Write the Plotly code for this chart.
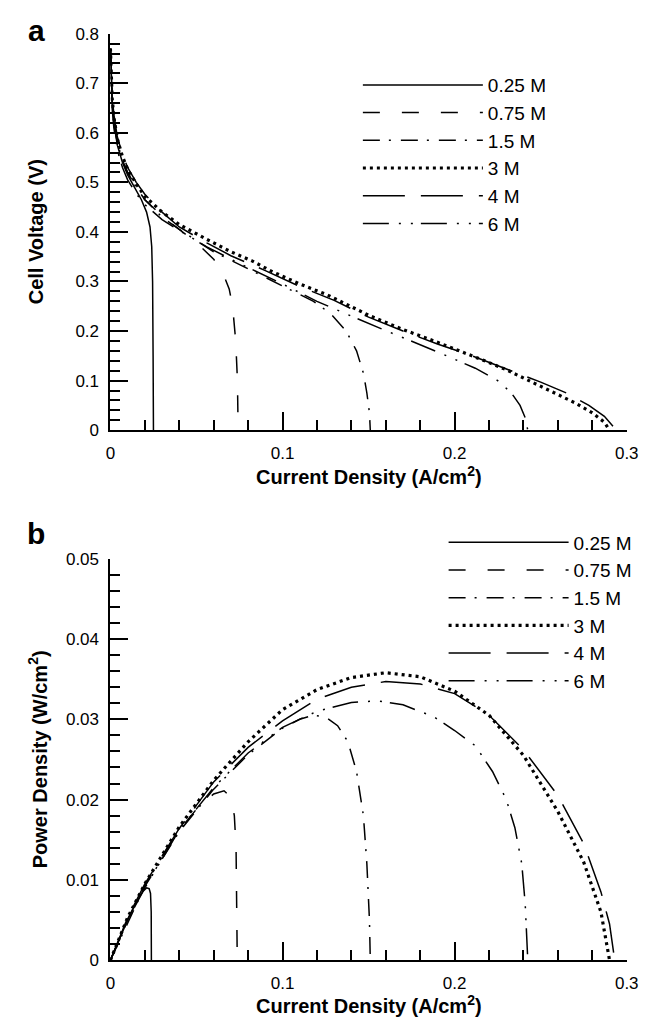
import plotly.graph_objects as go

# ---------------- data ----------------
labels = ["0.25 M", "0.75 M", "1.5 M", "3 M", "4 M", "6 M"]

# Panel a: cell voltage (V) vs current density (A/cm2)
a_i_025 = [0, 0.0005, 0.001, 0.002, 0.004, 0.007, 0.01, 0.014, 0.018, 0.021, 0.023, 0.024, 0.0245, 0.0248, 0.025]
a_v_025 = [0.77, 0.70, 0.66, 0.62, 0.575, 0.54, 0.515, 0.49, 0.465, 0.44, 0.41, 0.37, 0.30, 0.15, 0.0]

a_i_075 = [0, 0.0005, 0.001, 0.002, 0.004, 0.007, 0.01, 0.015, 0.02, 0.03, 0.04, 0.05, 0.06, 0.065, 0.069, 0.071, 0.0728, 0.0738, 0.0742]
a_v_075 = [0.77, 0.70, 0.665, 0.625, 0.58, 0.545, 0.52, 0.49, 0.465, 0.432, 0.405, 0.378, 0.345, 0.32, 0.285, 0.25, 0.18, 0.10, 0.0]

a_i_15 = [0, 0.0005, 0.001, 0.002, 0.004, 0.007, 0.01, 0.015, 0.02, 0.03, 0.04, 0.06, 0.08, 0.10, 0.118, 0.128, 0.137, 0.143, 0.147, 0.149, 0.1505, 0.151]
a_v_15 = [0.77, 0.70, 0.665, 0.625, 0.58, 0.545, 0.52, 0.49, 0.465, 0.43, 0.405, 0.36, 0.325, 0.29, 0.26, 0.235, 0.20, 0.16, 0.115, 0.075, 0.035, 0.0]

a_i_3 = [0, 0.0005, 0.001, 0.002, 0.004, 0.007, 0.01, 0.015, 0.02, 0.03, 0.04, 0.056, 0.07, 0.082, 0.094, 0.11, 0.126, 0.15, 0.17, 0.188, 0.203, 0.216, 0.23, 0.241, 0.255, 0.27, 0.28, 0.287, 0.29]
a_v_3 = [0.77, 0.705, 0.67, 0.632, 0.588, 0.552, 0.527, 0.497, 0.472, 0.44, 0.415, 0.385, 0.36, 0.342, 0.32, 0.295, 0.273, 0.232, 0.203, 0.18, 0.16, 0.142, 0.122, 0.104, 0.08, 0.055, 0.035, 0.016, 0.0]

a_i_4 = [0, 0.0005, 0.001, 0.002, 0.004, 0.007, 0.01, 0.015, 0.02, 0.03, 0.04, 0.056, 0.07, 0.09, 0.11, 0.13, 0.15, 0.17, 0.19, 0.21, 0.23, 0.25, 0.265, 0.278, 0.287, 0.292, 0.293]
a_v_4 = [0.77, 0.71, 0.675, 0.637, 0.592, 0.556, 0.53, 0.50, 0.476, 0.44, 0.41, 0.378, 0.352, 0.322, 0.29, 0.262, 0.228, 0.20, 0.174, 0.15, 0.124, 0.097, 0.075, 0.05, 0.028, 0.008, 0.0]

a_i_6 = [0, 0.0005, 0.001, 0.002, 0.004, 0.007, 0.01, 0.015, 0.02, 0.03, 0.04, 0.056, 0.074, 0.10, 0.12, 0.14, 0.15, 0.162, 0.19, 0.212, 0.225, 0.233, 0.238, 0.241, 0.2425]
a_v_6 = [0.77, 0.69, 0.65, 0.61, 0.565, 0.53, 0.505, 0.477, 0.455, 0.425, 0.403, 0.37, 0.338, 0.295, 0.26, 0.23, 0.215, 0.198, 0.158, 0.125, 0.10, 0.075, 0.05, 0.025, 0.0]

# Panel b: power density (W/cm2) vs current density (A/cm2)
b_i_025 = [0, 0.005, 0.01, 0.015, 0.019, 0.021, 0.0225, 0.0233, 0.0237, 0.0238]
b_p_025 = [0, 0.0026, 0.005, 0.0072, 0.0086, 0.009, 0.0089, 0.0083, 0.006, 0.0]

b_i_075 = [0, 0.01, 0.02, 0.03, 0.04, 0.05, 0.06, 0.066, 0.07, 0.072, 0.073, 0.0735, 0.0737]
b_p_075 = [0, 0.0051, 0.0093, 0.0129, 0.0162, 0.0188, 0.0207, 0.0211, 0.0203, 0.018, 0.014, 0.007, 0.0]

b_i_15 = [0, 0.02, 0.04, 0.06, 0.08, 0.10, 0.11, 0.118, 0.125, 0.132, 0.138, 0.143, 0.147, 0.149, 0.1505, 0.151]
b_p_15 = [0, 0.0092, 0.016, 0.0213, 0.0256, 0.0289, 0.030, 0.0305, 0.0303, 0.0292, 0.0272, 0.0235, 0.018, 0.012, 0.005, 0.0]

b_i_3 = [0, 0.01, 0.02, 0.04, 0.06, 0.08, 0.10, 0.12, 0.14, 0.16, 0.18, 0.20, 0.22, 0.24, 0.26, 0.275, 0.285, 0.29]
b_p_3 = [0, 0.0053, 0.0095, 0.0166, 0.0224, 0.0272, 0.0312, 0.0337, 0.0352, 0.0358, 0.0353, 0.0335, 0.0305, 0.0255, 0.0185, 0.0122, 0.006, 0.0]

b_i_4 = [0, 0.01, 0.02, 0.04, 0.06, 0.08, 0.10, 0.12, 0.14, 0.16, 0.18, 0.20, 0.22, 0.24, 0.26, 0.275, 0.285, 0.29, 0.293]
b_p_4 = [0, 0.0053, 0.0095, 0.0164, 0.0222, 0.0265, 0.0298, 0.0325, 0.034, 0.0347, 0.0344, 0.0332, 0.0305, 0.0262, 0.0205, 0.0145, 0.0085, 0.0045, 0.0]

b_i_6 = [0, 0.01, 0.02, 0.04, 0.06, 0.08, 0.10, 0.12, 0.14, 0.155, 0.17, 0.188, 0.20, 0.212, 0.222, 0.23, 0.235, 0.239, 0.241, 0.2425]
b_p_6 = [0, 0.005, 0.009, 0.0162, 0.0215, 0.0258, 0.029, 0.031, 0.0321, 0.0323, 0.0318, 0.0303, 0.0286, 0.0267, 0.0235, 0.020, 0.0165, 0.012, 0.007, 0.0]

x_ticks = [0, 0.1, 0.2, 0.3]
x_ticktext = ["0", "0.1", "0.2", "0.3"]
ya_ticks = [0, 0.1, 0.2, 0.3, 0.4, 0.5, 0.6, 0.7, 0.8]
ya_ticktext = ["0", "0.1", "0.2", "0.3", "0.4", "0.5", "0.6", "0.7", "0.8"]
yb_ticks = [0, 0.01, 0.02, 0.03, 0.04, 0.05]
yb_ticktext = ["0", "0.01", "0.02", "0.03", "0.04", "0.05"]

# ---------------- styling ----------------
W, H = 659, 1021
FONT = "Liberation Sans, Arial, Helvetica, sans-serif"
dashes = ["solid", "17px,22px", "17px,9px,2px,10px", "3px,4px", "42px,16px", "26px,10px,2px,10px,2px,8px"]
widths = [1.5, 1.5, 1.5, 3.2, 1.5, 1.5]


def fx(px):
    return px / W


def fy(py):
    return 1 - py / H


panel_a = [(a_i_025, a_v_025), (a_i_075, a_v_075), (a_i_15, a_v_15),
           (a_i_3, a_v_3), (a_i_4, a_v_4), (a_i_6, a_v_6)]
panel_b = [(b_i_025, b_p_025), (b_i_075, b_p_075), (b_i_15, b_p_15),
           (b_i_3, b_p_3), (b_i_4, b_p_4), (b_i_6, b_p_6)]

fig = go.Figure()
for k, (xs, ys) in enumerate(panel_a):
    fig.add_trace(go.Scatter(x=xs, y=ys, mode="lines", name=labels[k],
                             line=dict(color="black", width=widths[k], dash=dashes[k]),
                             xaxis="x", yaxis="y", legend="legend"))
for k, (xs, ys) in enumerate(panel_b):
    fig.add_trace(go.Scatter(x=xs, y=ys, mode="lines", name=labels[k],
                             line=dict(color="black", width=widths[k], dash=dashes[k]),
                             xaxis="x2", yaxis="y2", legend="legend2"))

axis_common = dict(
    showline=True, linecolor="black", linewidth=2,
    ticks="inside", ticklen=18, tickwidth=2, tickcolor="black",
    showgrid=False, zeroline=False,
    tickfont=dict(family=FONT, size=17, color="black"),
    ticklabelstandoff=6,
)

xdom = [fx(100), fx(630)]
fig.update_layout(
    width=W, height=H,
    margin=dict(l=0, r=0, t=0, b=0),
    paper_bgcolor="white", plot_bgcolor="white",
    font=dict(family=FONT, color="black"),
    xaxis=dict(domain=xdom, anchor="y", range=[0, 0.3], tickvals=x_ticks, ticktext=x_ticktext,
               minor=dict(ticks="inside", ticklen=10, tickwidth=1.5, tickcolor="black", dtick=0.02),
               **axis_common),
    yaxis=dict(domain=[fy(421), fy(17)], anchor="x", range=[0, 0.8], tickvals=ya_ticks, ticktext=ya_ticktext,
               minor=dict(ticks="inside", ticklen=10, tickwidth=1.5, tickcolor="black", dtick=0.02),
               **axis_common),
    xaxis2=dict(domain=xdom, anchor="y2", range=[0, 0.3], tickvals=x_ticks, ticktext=x_ticktext,
                minor=dict(ticks="inside", ticklen=10, tickwidth=1.5, tickcolor="black", dtick=0.02),
                **axis_common),
    yaxis2=dict(domain=[fy(961), fy(552)], anchor="x2", range=[0, 0.05], tickvals=yb_ticks, ticktext=yb_ticktext,
                minor=dict(ticks="inside", ticklen=10, tickwidth=1.5, tickcolor="black", dtick=0.002),
                **axis_common),
    legend=dict(x=fx(354), y=fy(50), xanchor="left", yanchor="top", itemwidth=120,
                font=dict(family=FONT, size=19, color="black"), bgcolor="rgba(0,0,0,0)",
                borderwidth=0, tracegroupgap=0),
    legend2=dict(x=fx(442), y=fy(516), xanchor="left", yanchor="top", itemwidth=120,
                 font=dict(family=FONT, size=19, color="black"), bgcolor="rgba(0,0,0,0)",
                 borderwidth=0, tracegroupgap=0),
    showlegend=True,
)

title_font = dict(family=FONT, size=20, color="black", weight="bold")
ann = [
    dict(text="a", x=fx(24), y=fy(14), font=dict(family=FONT, size=30, color="black", weight="bold")),
    dict(text="b", x=fx(24), y=fy(526), font=dict(family=FONT, size=30, color="black", weight="bold")),
    dict(text="Current Density (A/cm<sup>2</sup>)", x=fx(365), y=fy(467), font=title_font),
    dict(text="Current Density (A/cm<sup>2</sup>)", x=fx(365), y=fy(1006), font=title_font),
    dict(text="Cell Voltage (V)", x=fx(24), y=fy(219), textangle=-90, font=title_font),
    dict(text="Power Density (W/cm<sup>2</sup>)", x=fx(26), y=fy(756), textangle=-90, font=title_font),
]
for a in ann:
    fig.add_annotation(xref="paper", yref="paper", xanchor="center", yanchor="middle",
                       showarrow=False, **a)

fig.write_html("out.html")
